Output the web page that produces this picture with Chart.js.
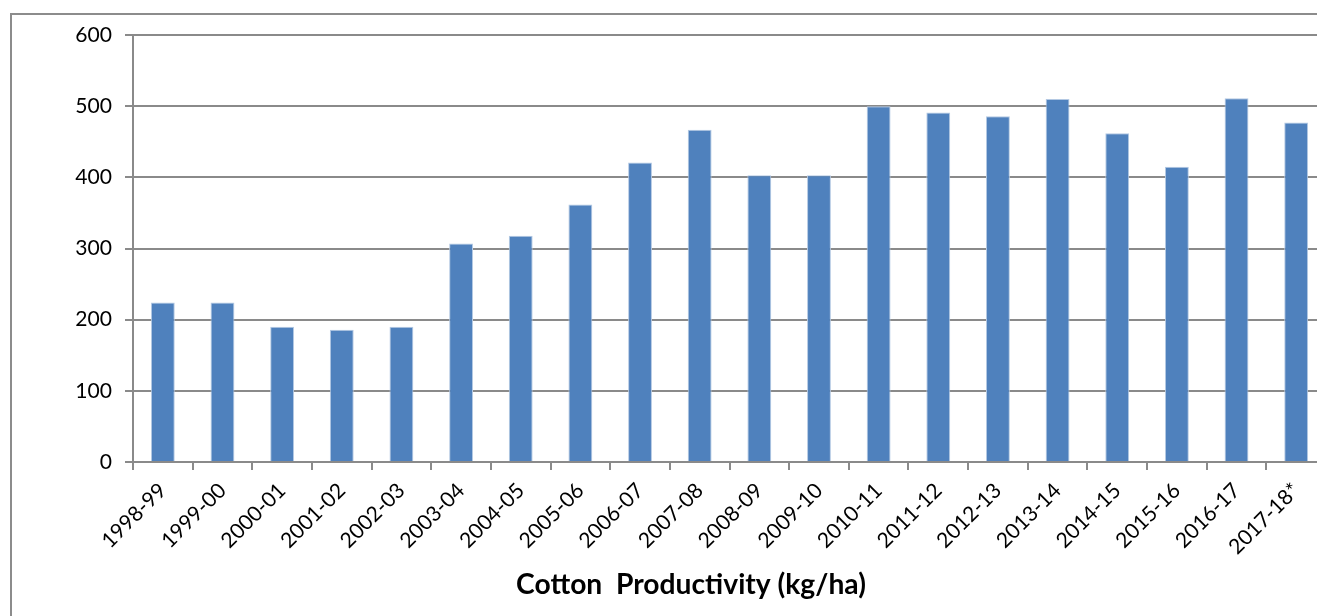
<!DOCTYPE html>
<html>
<head>
<meta charset="utf-8">
<script src="https://cdn.jsdelivr.net/npm/chart.js@4.4.0/dist/chart.umd.min.js"></script>
<style>
  html, body { margin: 0; padding: 0; overflow: hidden; background: #fff; width: 1317px; height: 616px; }
  #box { position: absolute; left: 10px; top: 13px; border-left: 2px solid #8c8c8c; border-top: 2px solid #8c8c8c; width: 1358px; height: 603px; }
  canvas { display: block; }
</style>
</head>
<body>
<div id="box"><canvas id="c" width="1358" height="603"></canvas></div>
<script>
const categories = ["1998-99","1999-00","2000-01","2001-02","2002-03","2003-04","2004-05","2005-06","2006-07","2007-08","2008-09","2009-10","2010-11","2011-12","2012-13","2013-14","2014-15","2015-16","2016-17","2017-18*"];
const productivity = [224,224,190,186,190,307,318,362,421,467,403,403,500,491,486,510,462,415,511,477];
const yTicks = [0,100,200,300,400,500,600];
const chartTitle = "Cotton  Productivity (kg/ha)";

const FAMILY = 'Lato';
const mctx = document.createElement('canvas').getContext('2d');
function fitSize(text, target, weight) {
  mctx.font = weight + ' 100px ' + FAMILY;
  return 100 * target / mctx.measureText(text).width;
}
const tickSize = fitSize('600', 36.7, 'normal');
const titleSize = fitSize(chartTitle, 350, 'bold');

const CANVAS_H = 603;
const PLOT_TOP = 20;
const PLOT_BOTTOM = 447;
const TITLE_PAD_BOTTOM = 16;
const xAxisHeight = CANVAS_H - TITLE_PAD_BOTTOM - titleSize * 1.2 - PLOT_BOTTOM;

const grey = '#8a8a8a';
new Chart(document.getElementById('c'), {
  type: 'bar',
  data: {
    labels: categories,
    datasets: [{
      data: productivity,
      backgroundColor: '#4F81BD',
      borderColor: '#B4C9E3',
      borderWidth: 1,
      barPercentage: 0.4,
      categoryPercentage: 1.0
    }]
  },
  options: {
    responsive: false,
    animation: false,
    devicePixelRatio: 1,
    layout: { padding: { top: PLOT_TOP, right: 44, bottom: 0, left: 44 } },
    plugins: {
      legend: { display: false },
      tooltip: { enabled: false },
      title: {
        display: true,
        text: chartTitle,
        position: 'bottom',
        color: '#000',
        font: { family: FAMILY, size: titleSize, weight: 'bold', lineHeight: 1.2 },
        padding: { top: 0, bottom: TITLE_PAD_BOTTOM }
      }
    },
    scales: {
      x: {
        grid: { drawOnChartArea: false, drawTicks: true, tickLength: 8, color: grey, lineWidth: 2, offset: true },
        border: { color: grey, width: 2 },
        ticks: { minRotation: 45, maxRotation: 45, autoSkip: false, color: '#000', padding: 8, font: { family: FAMILY, size: tickSize } },
        afterFit: (s) => { s.height = xAxisHeight; s.paddingLeft = 0; s.paddingRight = 0; s.paddingTop = 0; s.paddingBottom = 0; }
      },
      y: {
        min: 0, max: 600,
        afterBuildTicks: (s) => { s.ticks = yTicks.map(v => ({ value: v })); },
        grid: { color: grey, lineWidth: 2, tickLength: 8 },
        border: { color: grey, width: 2 },
        ticks: { color: '#000', padding: 13, font: { family: FAMILY, size: tickSize } },
        afterFit: (s) => { s.width = 77; s.paddingTop = 0; s.paddingBottom = 0; s.paddingLeft = 0; s.paddingRight = 0; }
      }
    }
  }
});
</script>
</body>
</html>
